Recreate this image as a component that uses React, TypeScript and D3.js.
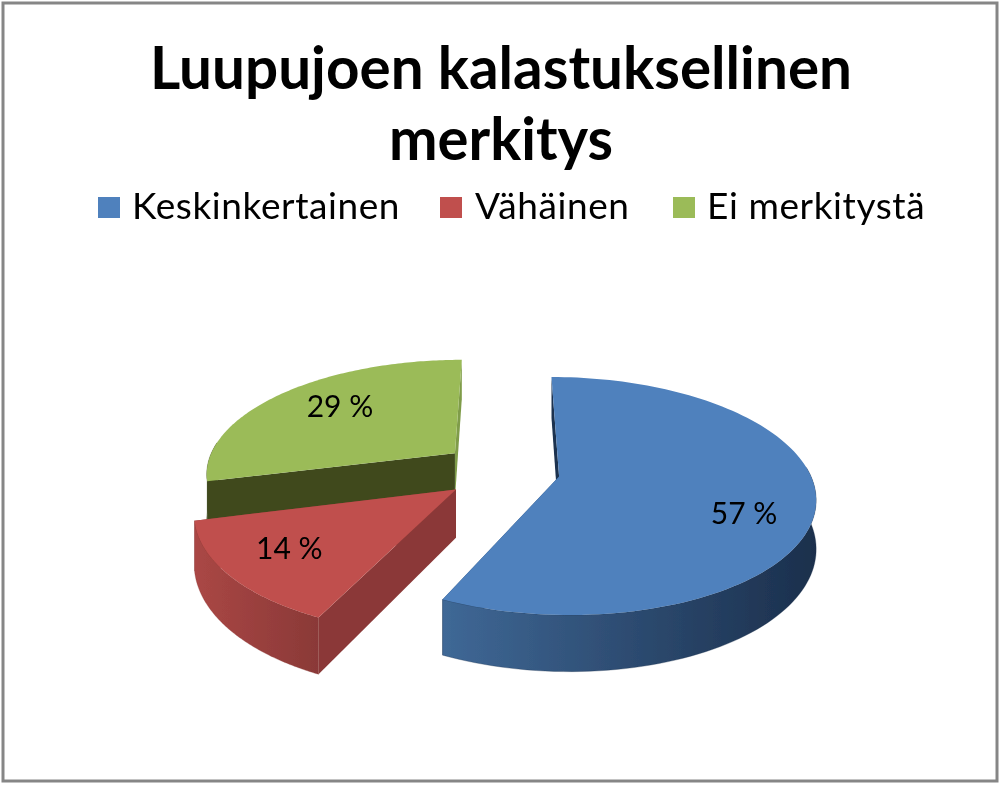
import React from "react";
import * as d3 from "d3";

const titleLines = ["Luupujoen kalastuksellinen", "merkitys"];
const titleWidths = [702, 224];
const categories = ["Keskinkertainen", "Vähäinen", "Ei merkitystä"];
const shares = [57, 14, 29];
const labels = ["57 %", "14 %", "29 %"];

const topColors = ["#4f81bd", "#c0504d", "#9bbb59"];
const wallFrom = ["#3f6896", "#aa4745", "#3f4a1f"];
const wallTo = ["#1b2f4c", "#8a3937", "#3f4a1f"];
const radialColors = ["#1c3350", "#8b3937", "#3f4a1f"];
const endRadialColors = ["#2c4a70", "#8b3937", "#7f9c48"];

const explode = [55, 62, 65];
const labelRho = [0.75, 0.74, 0.7];
const labelShift = [11, 2, 4];
const legendSwatchX = [98, 440, 673];
const legendTextX = [132, 475, 707];

const R = 250, F = 1538, TILT = 0.456, DEPTH = 47, X0 = 505, Y0 = 471;

type P = [number, number];
const project = (X: number, Z: number, h: number): P => {
  const s = F / (F - Z);
  return [X0 + X * s, Y0 + (Z * TILT + h * DEPTH) * s];
};

const pieGen = d3.pie<number>().sort(null).startAngle(0).endAngle(2 * Math.PI);
const arcs = pieGen(shares);
const line = d3.line<P>();

export default function App() {
  const slices = arcs.map((a, i) => {
    const mid = (a.startAngle + a.endAngle) / 2;
    const cx = explode[i] * Math.sin(mid);
    const cz = -explode[i] * Math.cos(mid);
    const rim = (ang: number, h: number) =>
      project(cx + R * Math.sin(ang), cz - R * Math.cos(ang), h);
    const angles = d3.range(0, 121).map((k) => a.startAngle + ((a.endAngle - a.startAngle) * k) / 120);
    const front = angles.filter((t) => -Math.cos(t) > -0.1);
    const apexTop = project(cx, cz, 0);
    const apexBot = project(cx, cz, 1);
    const top = angles.map((t) => rim(t, 0));
    const xs = top.map((p) => p[0]);
    const la = mid + (labelShift[i] * Math.PI) / 180;
    const lp = project(cx + labelRho[i] * R * Math.sin(la), cz - labelRho[i] * R * Math.cos(la), 0);
    return {
      i,
      top: line([apexTop, ...top])! + "Z",
      wall: line([...front.map((t) => rim(t, 0)), ...front.slice().reverse().map((t) => rim(t, 1))])! + "Z",
      startFace: line([apexTop, rim(a.startAngle, 0), rim(a.startAngle, 1), apexBot])! + "Z",
      endFace: line([apexTop, rim(a.endAngle, 0), rim(a.endAngle, 1), apexBot])! + "Z",
      x0: d3.min(xs)!,
      x1: d3.max(xs)!,
      lp,
    };
  });
  const order = [2, 1, 0];
  const font = "Lato, 'Open Sans', sans-serif";
  return (
    <svg width={1000} height={785} style={{ position: "absolute", left: 0, top: 0, background: "#fff" }}>
      <defs>
        {slices.map((s) => (
          <linearGradient key={s.i} id={`wall${s.i}`} gradientUnits="userSpaceOnUse" x1={s.x0} x2={s.x1} y1={0} y2={0}>
            <stop offset="0" stopColor={wallFrom[s.i]} />
            <stop offset="1" stopColor={wallTo[s.i]} />
          </linearGradient>
        ))}
        <filter id="soft" x="-5%" y="-5%" width="110%" height="110%">
          <feGaussianBlur stdDeviation="0.45" />
        </filter>
      </defs>
      <g filter="url(#soft)">
        <rect x={3} y={3} width={994} height={778} fill="#fff" stroke="#868686" strokeWidth={3} />
        {titleLines.map((t, i) => (
          <text
            key={t}
            x={501}
            y={89 + i * 71}
            textAnchor="middle"
            textLength={titleWidths[i]}
            lengthAdjust="spacingAndGlyphs"
            fontFamily={font}
            fontWeight={700}
            fontSize={59}
            fill="#000"
          >
            {t}
          </text>
        ))}
        {categories.map((c, i) => (
          <g key={c}>
            <rect x={legendSwatchX[i]} y={197} width={22} height={21} fill={topColors[i]} />
            <text x={legendTextX[i]} y={219} fontFamily={font} fontSize={37} letterSpacing={0.6} fill="#000">
              {c}
            </text>
          </g>
        ))}
        {order.map((i) => {
          const s = slices[i];
          return (
            <g key={i}>
              <path d={s.endFace} fill={endRadialColors[i]} />
              <path d={s.wall} fill={`url(#wall${i})`} stroke={wallTo[i]} strokeWidth={0.3} />
              <path d={s.startFace} fill={radialColors[i]} />
              <path d={s.top} fill={topColors[i]} />
            </g>
          );
        })}
        {slices.map((s) => (
          <text key={s.i} x={s.lp[0]} y={s.lp[1]} dy="0.35em" textAnchor="middle" fontFamily={font} fontSize={30} fill="#000">
            {labels[s.i]}
          </text>
        ))}
      </g>
    </svg>
  );
}
